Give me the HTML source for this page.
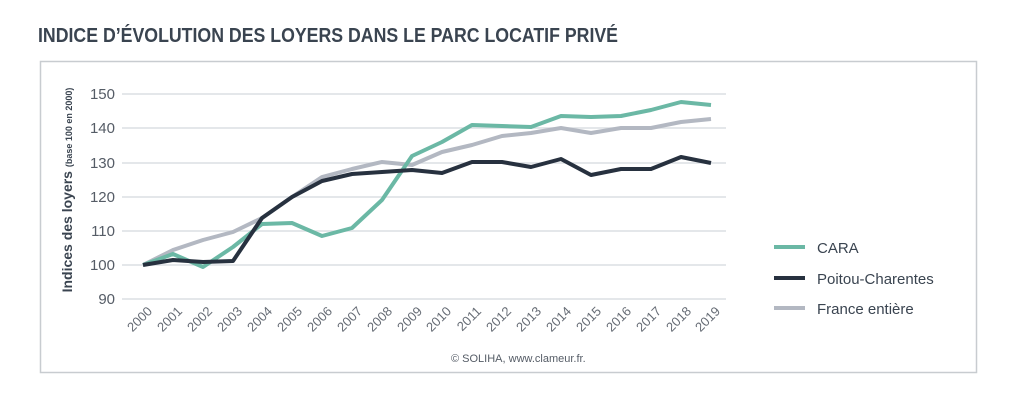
<!DOCTYPE html>
<html><head><meta charset="utf-8"><style>
body{margin:0;background:#fff;width:1024px;height:411px;overflow:hidden}
</style></head><body>
<svg width="1024" height="411" xmlns="http://www.w3.org/2000/svg" font-family="Liberation Sans, sans-serif">
<text x="38" y="42" font-size="20" font-weight="bold" fill="#3a4450" textLength="580" lengthAdjust="spacingAndGlyphs">INDICE D’ÉVOLUTION DES LOYERS DANS LE PARC LOCATIF PRIVÉ</text>
<rect x="40.5" y="61.5" width="936" height="311" fill="none" stroke="#c8ccd0" stroke-width="1.5"/>
<g stroke="#dcdfe3" stroke-width="1.5">
<line x1="122" x2="726" y1="94" y2="94"/><line x1="122" x2="726" y1="128" y2="128"/>
<line x1="122" x2="726" y1="163" y2="163"/><line x1="122" x2="726" y1="197" y2="197"/>
<line x1="122" x2="726" y1="231" y2="231"/><line x1="122" x2="726" y1="265" y2="265"/>
<line x1="122" x2="726" y1="299" y2="299"/>
</g>
<g font-size="15" fill="#555c66" text-anchor="end">
<text x="115" y="99">150</text><text x="115" y="133">140</text><text x="115" y="168">130</text>
<text x="115" y="202">120</text><text x="115" y="236">110</text><text x="115" y="270">100</text><text x="115" y="304">90</text>
</g>
<text transform="translate(72,190) rotate(-90)" text-anchor="middle" font-size="14" font-weight="bold" fill="#3a4450">Indices des loyers <tspan font-size="9">(base 100 en 2000)</tspan></text>
<g font-size="13" fill="#666c75" text-anchor="end">
<text transform="translate(153,312) rotate(-45)">2000</text><text transform="translate(183,312) rotate(-45)">2001</text>
<text transform="translate(213,312) rotate(-45)">2002</text><text transform="translate(243,312) rotate(-45)">2003</text>
<text transform="translate(273,312) rotate(-45)">2004</text><text transform="translate(303,312) rotate(-45)">2005</text>
<text transform="translate(333,312) rotate(-45)">2006</text><text transform="translate(363,312) rotate(-45)">2007</text>
<text transform="translate(393,312) rotate(-45)">2008</text><text transform="translate(423,312) rotate(-45)">2009</text>
<text transform="translate(452,312) rotate(-45)">2010</text><text transform="translate(482,312) rotate(-45)">2011</text>
<text transform="translate(512,312) rotate(-45)">2012</text><text transform="translate(542,312) rotate(-45)">2013</text>
<text transform="translate(572,312) rotate(-45)">2014</text><text transform="translate(602,312) rotate(-45)">2015</text>
<text transform="translate(632,312) rotate(-45)">2016</text><text transform="translate(662,312) rotate(-45)">2017</text>
<text transform="translate(692,312) rotate(-45)">2018</text><text transform="translate(721,312) rotate(-45)">2019</text>
</g>
<g fill="none" stroke-width="4" stroke-linejoin="round">
<polyline stroke="#b3b8c2" points="143,265 173,250 203,240 233,232 262,218 292,197 322,177 352,169 382,162 412,165 442,152 472,145 502,136 531,133 561,128 591,133 621,128 651,128 681,122 711,119"/>
<polyline stroke="#6bb8a5" points="143,265 173,254 203,267 233,247 262,224 292,223 322,236 352,228 382,200 412,156 442,142 472,125 502,126 531,127 561,116 591,117 621,116 651,110 681,102 711,105"/>
<polyline stroke="#27313f" points="143,265 173,260 203,262 233,261 262,218 292,197 322,181 352,174 382,172 412,170 442,173 472,162 502,162 531,167 561,159 591,175 621,169 651,169 681,157 711,163"/>
</g>
<g stroke-width="4">
<line x1="774" x2="805" y1="247" y2="247" stroke="#6bb8a5"/>
<line x1="774" x2="805" y1="278" y2="278" stroke="#27313f"/>
<line x1="774" x2="805" y1="308" y2="308" stroke="#b3b8c2"/>
</g>
<g font-size="15" fill="#3a4450">
<text x="817" y="253">CARA</text><text x="817" y="284">Poitou-Charentes</text><text x="817" y="314">France entière</text>
</g>
<text x="451" y="362" font-size="11" fill="#555c66">© SOLIHA, www.clameur.fr.</text>
</svg>
</body></html>
